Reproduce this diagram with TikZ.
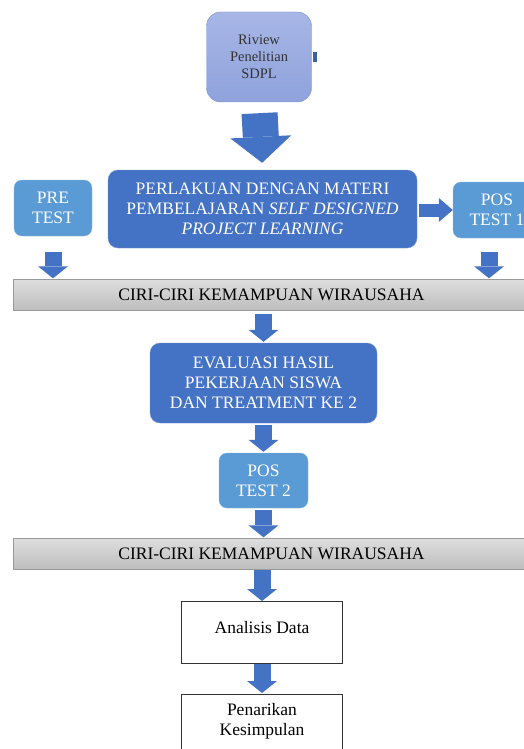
\documentclass[tikz,border=0pt]{standalone}
\usepackage{fontspec}
\setmainfont{Liberation Serif}
\usetikzlibrary{arrows.meta}

\definecolor{boxblue}{HTML}{4472C4}
\definecolor{lightblue}{HTML}{5B9BD5}
\definecolor{lilactop}{HTML}{A7B6E6}
\definecolor{lilacbot}{HTML}{8FA2DC}
\definecolor{lilacline}{HTML}{7C94D6}
\definecolor{bartop}{HTML}{DEDEDE}
\definecolor{barbot}{HTML}{BDBDBD}

\begin{document}
\begin{tikzpicture}[x=1pt, y=-1pt,
    every node/.style={font=\fontsize{17.5}{20}\selectfont, align=center, inner sep=0pt},
    darkbox/.style={rectangle, rounded corners=10pt, fill=boxblue, draw=boxblue!75!white, text=white},
    lightbox/.style={rectangle, rounded corners=8pt, fill=lightblue, draw=lightblue!75!white, text=white},
    greybar/.style={rectangle, top color=bartop, bottom color=barbot, draw=gray!80, minimum width=517pt, minimum height=31pt},
    plainbox/.style={rectangle, draw=black!80, fill=white, minimum width=161pt, anchor=north},
    downarrow/.style={draw=boxblue, line width=17pt, -{Triangle[length=12pt, width=30pt, line width=0pt]}}]
    \useasboundingbox (0,0) rectangle (523,749);

    % Kotak review awal
    \node[rectangle, rounded corners=14pt, top color=lilactop, bottom color=lilacbot, draw=lilacline,
          minimum width=105pt, minimum height=90pt, text=black!80,
          font=\fontsize{14.5}{17}\selectfont] (riview) at (259, 57) {Riview\\Penelitian\\SDPL};
    \fill[boxblue!85!black] ([xshift=1pt]riview.east) ++(0,-5) rectangle ++(4,10);

    % Perlakuan dan tes
    \node[darkbox, minimum width=309pt, minimum height=78pt] (perlakuan) at (262.5, 209)
        {PERLAKUAN DENGAN MATERI\\PEMBELAJARAN \textit{SELF DESIGNED}\\\textit{PROJECT LEARNING}};
    \node[lightbox, minimum width=78pt, minimum height=56pt] (pre) at (53, 208) {PRE\\TEST};
    \node[lightbox, minimum width=88pt, minimum height=56pt] (pos1) at (497, 210) {POS\\TEST 1};

    % Ciri-ciri pertama
    \node[greybar] (bar1) at (271.5, 295) {CIRI-CIRI KEMAMPUAN WIRAUSAHA};

    % Evaluasi dan tes kedua
    \node[darkbox, minimum width=227pt, minimum height=80pt] (evaluasi) at (263.5, 383)
        {EVALUASI HASIL\\PEKERJAAN SISWA\\DAN TREATMENT KE 2};
    \node[lightbox, minimum width=89pt, minimum height=55pt] (pos2) at (263.5, 480.5) {POS\\TEST 2};

    % Ciri-ciri kedua
    \node[greybar] (bar2) at (271.5, 554) {CIRI-CIRI KEMAMPUAN WIRAUSAHA};

    % Analisis dan kesimpulan
    \node[plainbox, inner ysep=20pt, text height=12pt, text depth=10pt] (analisis) at (262, 601) {Analisis Data};
    \node[plainbox, inner ysep=9pt, text depth=30pt] (penarikan) at (262, 694) {Penarikan\\Kesimpulan};

    % Panah
    \draw[draw=boxblue, line width=36pt, -{Triangle[length=26pt, width=61pt, line width=0pt]},
          shorten <=11pt, shorten >=7pt] (riview.south) -- (perlakuan.north);
    \draw[draw=boxblue, line width=13pt, -{Triangle[length=14pt, width=24pt, line width=0pt]},
          shorten <=2pt] (perlakuan.east |- pos1.west) -- (pos1.west);
    \draw[downarrow, shorten <=16pt, shorten >=1pt] (pre.south) -- (pre.south |- bar1.north);
    \draw[downarrow, shorten <=14pt, shorten >=1pt] ([xshift=-8pt]pos1.south) -- ([xshift=-8pt]pos1.south |- bar1.north);
    \draw[downarrow, shorten <=3pt, shorten >=1pt] (evaluasi.north |- bar1.south) -- (evaluasi.north);
    \draw[downarrow, shorten <=2pt, shorten >=1pt] (evaluasi.south) -- (pos2.north);
    \draw[downarrow, shorten <=2pt, shorten >=1pt] (pos2.south) -- (pos2.south |- bar2.north);
    \draw[downarrow] (analisis.north |- bar2.south) -- (analisis.north);
    \draw[downarrow, shorten <=1pt, shorten >=1pt] (analisis.south) -- (penarikan.north);
\end{tikzpicture}
\end{document}
